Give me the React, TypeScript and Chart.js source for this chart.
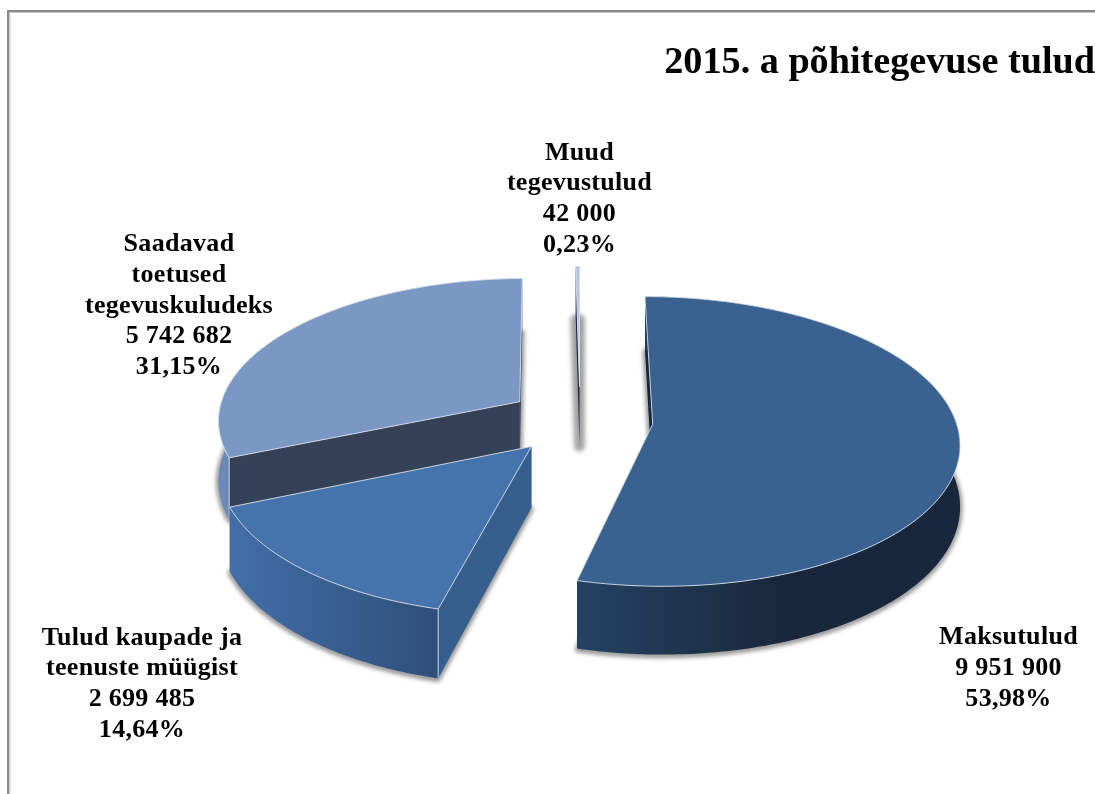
import React, { useEffect, useRef } from "react";
import { Chart, registerables } from "chart.js";

Chart.register(...registerables);

const chartTitle = "2015. a põhitegevuse tulud";
const categories = ["Maksutulud", "Tulud kaupade ja teenuste müügist", "Saadavad toetused tegevuskuludeks", "Muud tegevustulud"];
const categoryLines = [
  ["Maksutulud"],
  ["Tulud kaupade ja", "teenuste müügist"],
  ["Saadavad", "toetused", "tegevuskuludeks"],
  ["Muud", "tegevustulud"],
];
const values = [9951900, 2699485, 5742682, 42000];
const explode = [73, 73, 73, 73];

const topColors = ["#3a6291", "#4574ad", "#7b98c5", "#b4c6e4"];
const wallFrom = ["#254263", "#426fa8", "#6b8ab7", "#2a3f60"];
const wallTo = ["#18273b", "#2f4f7b", "#6b8ab7", "#1a2a45"];
const wallStop = [0.55, 1, 1, 1];
const radialColors = ["#17263c", "#375f8e", "#344157", "#1a2a45"];
const shadowWidths = [5, 5, 5, 11];
const drawOrder = [3, 2, 0, 1];

const labelAnchors = [
  { x: 1008.5, y: 637.5 },
  { x: 142, y: 638 },
  { x: 179, y: 244.5 },
  { x: 579.5, y: 153 },
];
const labelLineStep = 30.7;
const SERIF = '"Liberation Serif", "Times New Roman", serif';

const PERSP = 0.000389;
const SQUASH = 0.468;
const DEPTH = 60;

const total = values.reduce((a, b) => a + b, 0);
const fmtValue = (v: number) => String(v).replace(/\B(?=(\d{3})+$)/g, " ");
const fmtPct = (v: number) => ((v / total) * 100).toFixed(2).replace(".", ",") + "%";

const pie3d = {
  id: "pie3d",
  beforeDraw(chart: any) {
    const { ctx } = chart;
    ctx.save();
    ctx.fillStyle = "#ffffff";
    ctx.fillRect(0, 0, 1095, 794);
    ctx.fillStyle = "#8a8a8a";
    ctx.fillRect(7, 10, 1088, 2.5);
    ctx.fillRect(7, 10, 2.5, 784);
    ctx.fillStyle = "#d8d8d8";
    ctx.fillRect(9.5, 12.5, 1, 782);
    ctx.restore();
  },
  beforeDatasetsDraw(chart: any) {
    const { ctx } = chart;
    const arcs = chart.getDatasetMeta(0).data;
    const cx = arcs[0].x;
    const cy = arcs[0].y;
    const proj = (u: number, v: number, z = 0): [number, number] => {
      const g = 1 / (1 - PERSP * v);
      return [cx + u * g, cy + (SQUASH * v + z) * g];
    };
    const geoms = arcs.map((arc: any) => {
      const start = arc.startAngle;
      const end = arc.endAngle;
      const mid = (start + end) / 2;
      const k = arc.options.offset;
      const ox = Math.cos(mid) * k;
      const oy = Math.sin(mid) * k;
      const r = arc.outerRadius;
      const n = Math.max(2, Math.ceil(((end - start) * 180) / Math.PI));
      const rim: [number, number][] = [];
      for (let i = 0; i <= n; i++) {
        const a = start + ((end - start) * i) / n;
        rim.push([ox + r * Math.cos(a), oy + r * Math.sin(a)]);
      }
      return { ox, oy, rim };
    });
    const poly = (pts: [number, number][], close = true) => {
      ctx.beginPath();
      pts.forEach((p, i) => (i ? ctx.lineTo(p[0], p[1]) : ctx.moveTo(p[0], p[1])));
      if (close) ctx.closePath();
    };

    ctx.save();
    ctx.lineJoin = "round";

    // soft shadow: the slice's bottom face, blurred
    ctx.filter = "blur(2px)";
    geoms.forEach((g: any, i: number) => {
      const pts = [proj(g.ox, g.oy, DEPTH + 1), ...g.rim.map((p: number[]) => proj(p[0], p[1], DEPTH + 1))] as [number, number][];
      poly(pts);
      ctx.fillStyle = "rgba(120,120,120,0.7)";
      ctx.strokeStyle = "rgba(130,130,130,0.7)";
      ctx.lineWidth = shadowWidths[i];
      ctx.fill();
      ctx.stroke();
    });
    ctx.filter = "none";

    const edge = "rgba(225,230,240,0.85)";
    drawOrder.forEach((i) => {
      const g = geoms[i];
      const first = g.rim[0];
      const last = g.rim[g.rim.length - 1];
      // radial faces
      [first, last].forEach((p: number[]) => {
        poly([proj(g.ox, g.oy), proj(p[0], p[1]), proj(p[0], p[1], DEPTH), proj(g.ox, g.oy, DEPTH)]);
        ctx.fillStyle = radialColors[i];
        ctx.fill();
      });
      // outer wall
      const topPts = g.rim.map((p: number[]) => proj(p[0], p[1]));
      const botPts = g.rim.map((p: number[]) => proj(p[0], p[1], DEPTH));
      const xs = topPts.map((p: number[]) => p[0]);
      const grad = ctx.createLinearGradient(Math.min(...xs), 0, Math.max(...xs), 0);
      grad.addColorStop(0, wallFrom[i]);
      grad.addColorStop(wallStop[i], wallTo[i]);
      poly([...topPts, ...botPts.slice().reverse()]);
      ctx.fillStyle = grad;
      ctx.fill();
      // light edges on the corners of the walls
      ctx.strokeStyle = edge;
      ctx.lineWidth = 1;
      if (i === 1 || i === 2) {
        poly([proj(first[0], first[1]), proj(first[0], first[1], DEPTH)], false);
        ctx.stroke();
      }
      // top face
      poly([proj(g.ox, g.oy), ...topPts]);
      ctx.fillStyle = topColors[i];
      ctx.fill();
      ctx.stroke();
    });
    ctx.restore();
    return false;
  },
  afterDraw(chart: any) {
    const { ctx } = chart;
    ctx.save();
    ctx.font = `bold 26px ${SERIF}`;
    (ctx as any).letterSpacing = "0.3px";
    ctx.fillStyle = "#000000";
    ctx.textAlign = "center";
    ctx.textBaseline = "middle";
    categories.forEach((_, i) => {
      const lines = [...categoryLines[i], fmtValue(values[i]), fmtPct(values[i])];
      lines.forEach((line, j) => {
        ctx.fillText(line, labelAnchors[i].x, labelAnchors[i].y + j * labelLineStep);
      });
    });
    ctx.restore();
  },
};

export default function App() {
  const ref = useRef<HTMLCanvasElement | null>(null);
  useEffect(() => {
    if (!ref.current) return;
    const chart = new Chart(ref.current, {
      type: "pie",
      data: {
        labels: categories,
        datasets: [{ data: values, backgroundColor: topColors, offset: explode, radius: 303, borderWidth: 0 }],
      },
      options: {
        responsive: false,
        animation: false,
        devicePixelRatio: 1,
        layout: { padding: { left: 65, right: 0, top: 0, bottom: 71 } },
        plugins: {
          legend: { display: false },
          tooltip: { enabled: false },
          title: {
            display: true,
            text: chartTitle,
            align: "end",
            color: "#000000",
            font: { family: SERIF, size: 38.2, weight: "bold" },
            padding: { top: 40.5, bottom: 30.7 },
          },
        },
      },
      plugins: [pie3d],
    } as any);
    return () => chart.destroy();
  }, []);
  return (
    <div style={{ position: "fixed", left: 0, top: 0, width: 1095, height: 794, overflow: "hidden", background: "#fff" }}>
      <canvas ref={ref} width={1095} height={794} style={{ display: "block" }} />
    </div>
  );
}
